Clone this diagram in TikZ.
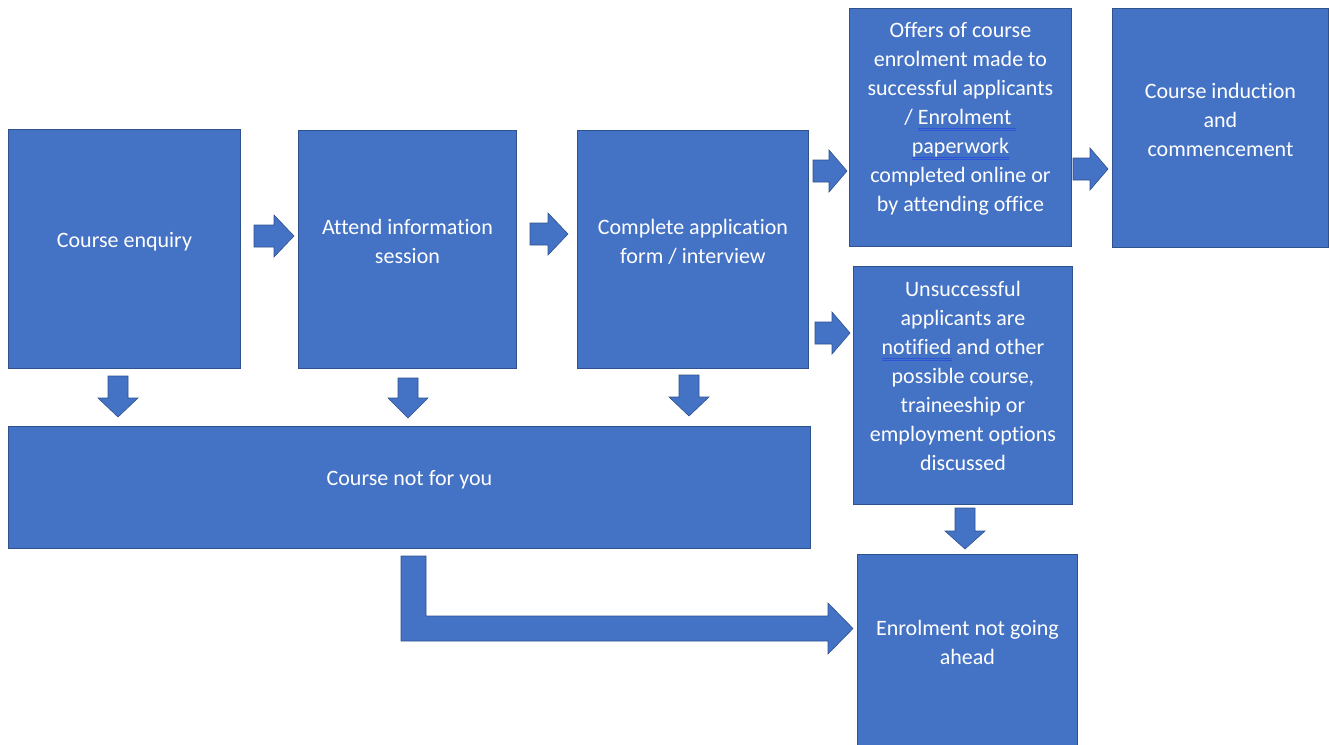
\documentclass[tikz,border=0pt]{standalone}
\usepackage{fontspec}
\setmainfont{Carlito}[Ligatures={NoCommon}]
\definecolor{boxfill}{HTML}{4472C4}
\definecolor{boxline}{HTML}{2F528F}
\definecolor{sqcol}{HTML}{2B55D6}
\newcommand\sqline[1]{{\setbox0\hbox{#1}\rlap{\raisebox{-4.5pt}{\color{sqcol}\rule{\wd0}{0.9pt}}}\rlap{\raisebox{-6.5pt}{\color{sqcol}\rule{\wd0}{0.9pt}}}\box0}}
\newcommand\rarr[4]{\filldraw[arr] (#1,#4-11) -- (#2,#4-11) -- (#2,#4-21) -- (#3,#4) -- (#2,#4+21) -- (#2,#4+11) -- (#1,#4+11) -- cycle;}
\newcommand\darr[4]{\filldraw[arr] (#1-10,#2) -- (#1+10,#2) -- (#1+10,#3) -- (#1+20,#3) -- (#1,#4) -- (#1-20,#3) -- (#1-10,#3) -- cycle;}
\tikzset{
  box/.style={draw=boxline, fill=boxfill, line width=0.9pt, inner sep=0pt, anchor=north west},
  txt/.style={text=white, align=center, font=\fontsize{22}{29}\selectfont, inner sep=0pt},
  arr/.style={fill=boxfill, draw=boxline, line width=0.6pt, line join=miter}
}
\begin{document}
\begin{tikzpicture}[x=1pt,y=-1pt]
\useasboundingbox (0,0) rectangle (1329,744);
% boxes
\node[box, minimum width=232pt, minimum height=239pt] (enq) at (8,129) {};
\node[box, minimum width=218pt, minimum height=238pt] (att) at (298,130) {};
\node[box, minimum width=231pt, minimum height=238pt] (app) at (577,130) {};
\node[box, minimum width=222pt, minimum height=238pt] (off) at (849,8) {};
\node[box, minimum width=216pt, minimum height=239pt] (ind) at (1112,8) {};
\node[box, minimum width=219pt, minimum height=238pt] (uns) at (853,266) {};
\node[box, minimum width=802pt, minimum height=122pt] (not) at (8,426) {};
\node[box, minimum width=220pt, minimum height=194pt] (ena) at (857,554) {};
% texts
\node[txt] (tenq) at ([yshift=7pt]enq.center) {Course enquiry};
\node[txt] (tatt) at ([yshift=8pt]att.center) {Attend information\\session};
\node[txt] (tapp) at ([yshift=8pt]app.center) {Complete application\\form / interview};
\node[txt] (toff) at ([yshift=9pt]off.center) {Offers of course\\enrolment made to\\successful applicants\\/ \sqline{Enrolment\ }\\\sqline{paperwork}\\completed online or\\by attending office};
\node[txt] (tind) at ([yshift=8pt]ind.center) {Course induction\\and\\commencement};
\node[txt] (tuns) at ([yshift=10pt]uns.center) {Unsuccessful\\applicants are\\\sqline{notified} and other\\possible course,\\traineeship or\\employment options\\discussed};
\node[txt] (tnot) at ([yshift=8pt]not.center) {Course not for you};
\node[txt] (tena) at ([yshift=9pt]ena.center) {Enrolment not going\\ahead};
% block arrows
\rarr{254}{274}{294}{236}
\rarr{530}{548}{568}{234}
\rarr{813}{829}{847}{171}
\rarr{815}{832}{850}{333}
\rarr{1073}{1090}{1108}{169}
\darr{118}{376}{398}{417}
\darr{408}{378}{398}{418}
\darr{689}{375}{397}{416}
\darr{965}{508}{531}{549}
\filldraw[arr] (401,556) -- (426,556) -- (426,616) -- (828,616) -- (828,603) -- (853,628.5) -- (828,654) -- (828,641) -- (401,641) -- cycle;
\end{tikzpicture}
\end{document}
